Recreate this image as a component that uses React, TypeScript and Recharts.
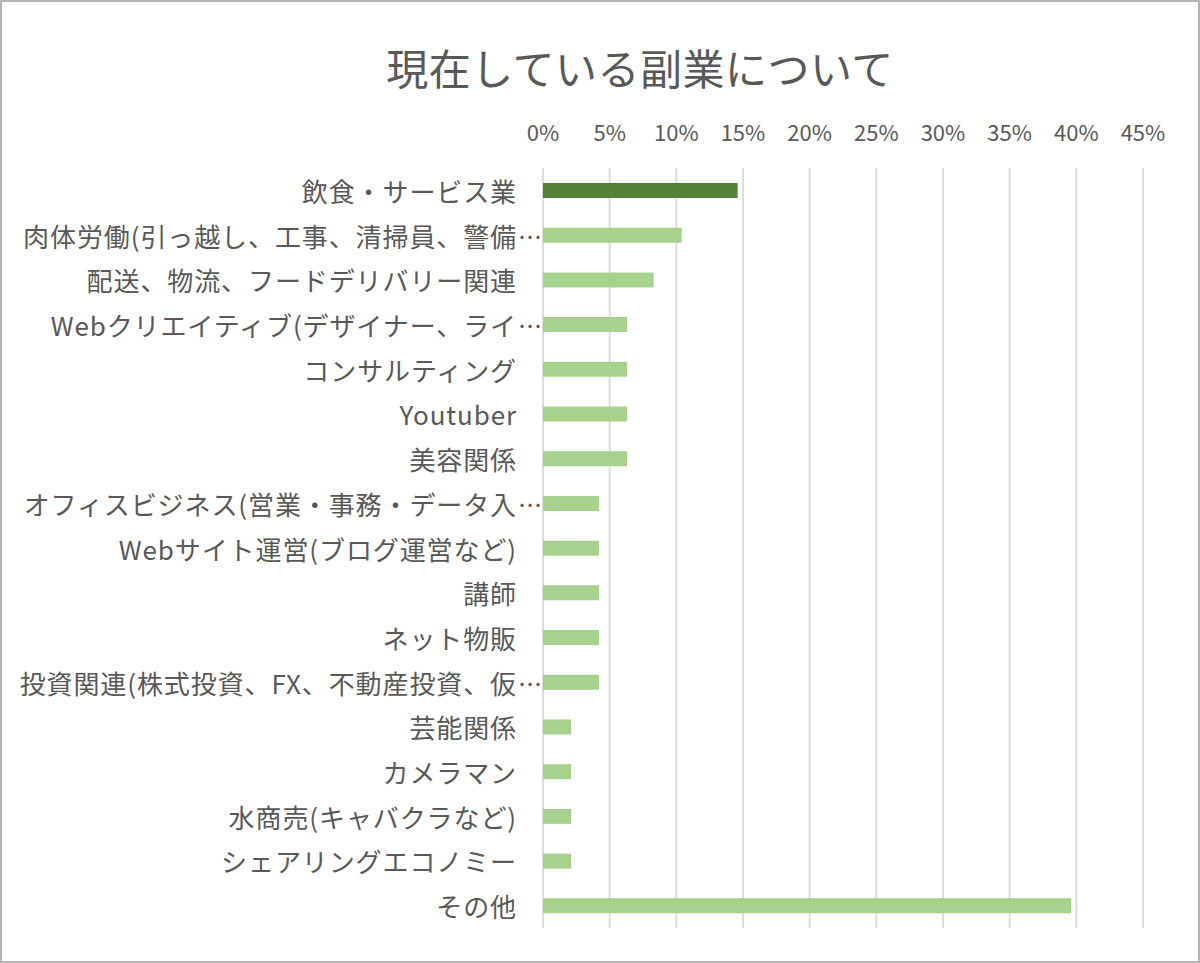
import React from "react";
import { BarChart, Bar, XAxis, YAxis, CartesianGrid, Cell } from "recharts";

const TITLE = "現在している副業について";

const categories = [
  "飲食・サービス業",
  "肉体労働(引っ越し、工事、清掃員、警備…",
  "配送、物流、フードデリバリー関連",
  "Webクリエイティブ(デザイナー、ライ…",
  "コンサルティング",
  "Youtuber",
  "美容関係",
  "オフィスビジネス(営業・事務・データ入…",
  "Webサイト運営(ブログ運営など)",
  "講師",
  "ネット物販",
  "投資関連(株式投資、FX、不動産投資、仮…",
  "芸能関係",
  "カメラマン",
  "水商売(キャバクラなど)",
  "シェアリングエコノミー",
  "その他",
];

const values = [14.6, 10.4, 8.3, 6.3, 6.3, 6.3, 6.3, 4.2, 4.2, 4.2, 4.2, 4.2, 2.1, 2.1, 2.1, 2.1, 39.6];

const xTicks = [0, 5, 10, 15, 20, 25, 30, 35, 40, 45];

const highlightIndex = 0;

const data = categories.map((name, i) => ({ name, value: values[i] }));

const FONT = "'Noto Sans CJK JP', 'Noto Sans', sans-serif";
const TEXT = "#595959";

const YTick = (props: any) => {
  const { x, y, payload } = props;
  const label: string = payload.value;
  const truncated = label.endsWith("…");
  const main = truncated ? label.slice(0, -1) : label;
  return (
    <g>
      <text
        x={x}
        y={y}
        textAnchor="end"
        dominantBaseline="central"
        fontSize={26}
        fill={TEXT}
        fontFamily={FONT}
        style={{ letterSpacing: "0.9px" }}
      >
        {main}
      </text>
      {truncated && (
        <text x={x + 1} y={y} textAnchor="start" dominantBaseline="central" fontSize={24} fill={TEXT} fontFamily={FONT}>
          …
        </text>
      )}
    </g>
  );
};

export default function App() {
  return (
    <div
      style={{
        position: "absolute",
        left: 0,
        top: 0,
        width: 1200,
        height: 963,
        background: "#fff",
        overflow: "hidden",
      }}
    >
      <div
        style={{
          position: "absolute",
          left: 0,
          top: 0,
          width: 1196,
          height: 959,
          border: "2px solid #b4b4b4",
        }}
      />
      <div
        style={{
          position: "absolute",
          left: 140,
          width: 1000,
          top: 42,
          textAlign: "center",
          fontSize: 42,
          lineHeight: "50px",
          letterSpacing: "0.5px",
          color: TEXT,
          fontFamily: FONT,
        }}
      >
        {TITLE}
      </div>
      <div style={{ position: "absolute", left: 0, top: 0 }}>
        <BarChart
          width={1200}
          height={963}
          data={data}
          layout="vertical"
          margin={{ top: 128, right: 57, bottom: 35, left: 0 }}
          barCategoryGap={0}
        >
          <CartesianGrid horizontal={false} vertical={true} stroke="#dcdcdc" strokeWidth={2} />
          <XAxis
            type="number"
            orientation="top"
            domain={[0, 45]}
            ticks={xTicks}
            interval={0}
            height={40}
            axisLine={false}
            tickLine={false}
            tickSize={0}
            tickMargin={27}
            tickFormatter={(v: number) => `${v}%`}
            tick={{ fill: TEXT, fontSize: 22, fontFamily: FONT }}
          />
          <YAxis
            type="category"
            dataKey="name"
            width={543}
            axisLine={false}
            tickLine={false}
            tickSize={0}
            tickMargin={26}
            interval={0}
            tick={<YTick />}
          />
          <Bar dataKey="value" barSize={15} isAnimationActive={false}>
            {data.map((_, i) => (
              <Cell key={i} fill={i === highlightIndex ? "#548235" : "#a9d18e"} />
            ))}
          </Bar>
        </BarChart>
      </div>
    </div>
  );
}
